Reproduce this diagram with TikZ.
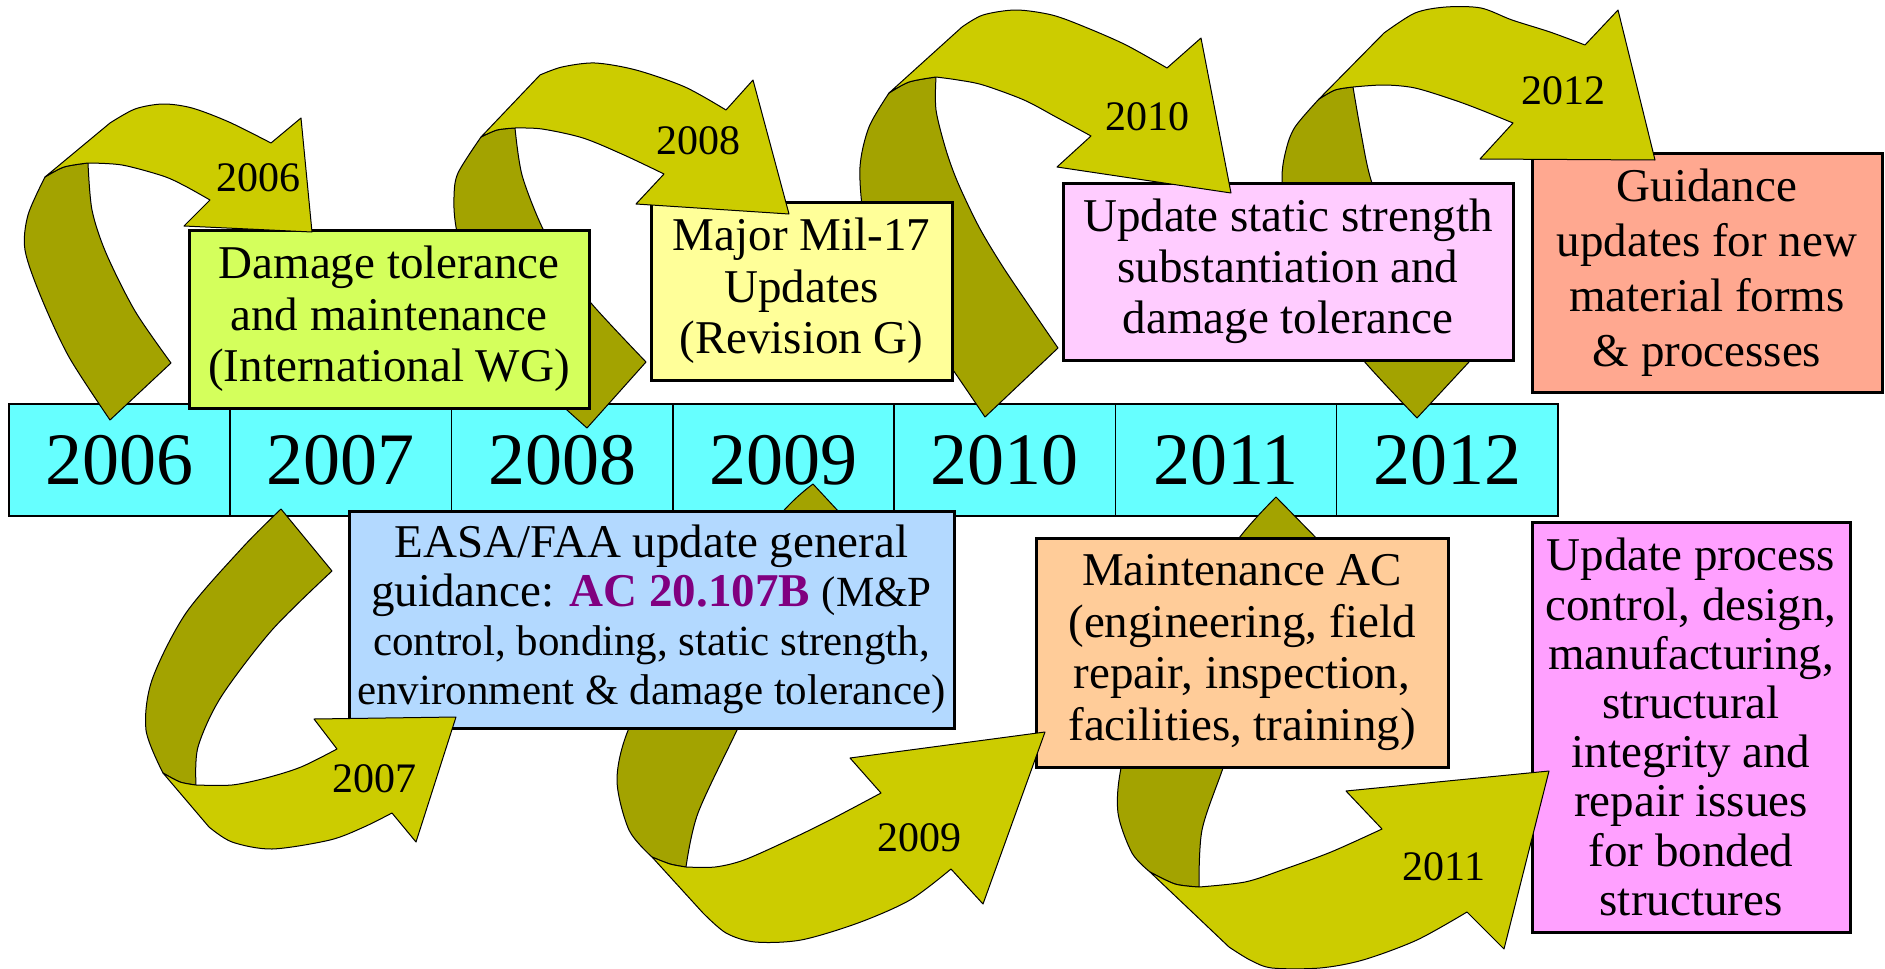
\documentclass[tikz,border=0pt]{standalone}
\usepackage{fontspec}
\setmainfont{Liberation Serif}
\definecolor{barcyan}{RGB}{102,255,255}
\definecolor{olivelight}{RGB}{204,204,0}
\definecolor{olivedark}{RGB}{163,163,0}
\definecolor{cgreen}{RGB}{212,255,92}
\definecolor{cyellow}{RGB}{255,255,153}
\definecolor{cpink}{RGB}{255,204,255}
\definecolor{csalmon}{RGB}{255,168,144}
\definecolor{cblue}{RGB}{179,217,255}
\definecolor{cpeach}{RGB}{255,204,153}
\definecolor{cmagenta}{RGB}{255,160,255}
\definecolor{acpurple}{RGB}{128,0,128}
\newcommand\myfs[2]{\fontsize{#1}{#2}\selectfont}
\begin{document}
\begin{tikzpicture}[x=0.5pt,y=-0.5pt,
  darkrib/.style={fill=olivedark, draw=black, line width=0.5pt, line join=round},
  lightrib/.style={fill=olivelight, draw=black, line width=0.5pt, line join=round},
  cell/.style={draw=black, line width=0.8pt, fill=barcyan, minimum width=110.64pt, minimum height=56pt, inner sep=0pt, font=\myfs{37}{40}},
  box/.style={draw=black, line width=1.5pt, inner sep=0pt, align=center, anchor=north west},
  lab/.style={inner sep=0pt, font=\myfs{21}{24}}]
\fill[white] (0,0) rectangle (1885,969);
\useasboundingbox (0,0) rectangle (1885,969);

% timeline bar
\foreach \i/\yr in {0/2006,1/2007,2/2008,3/2009,4/2010,5/2011,6/2012}
  \node[cell] (y\yr) at ({9+221.28*(\i+0.5)},460) {\yr};

% ---------- lower row ----------
\node[box, fill=cmagenta, minimum width=159pt, minimum height=205pt, font=\myfs{23.5}{24.6}] (b7) at (1530.5,520.5)
  {Update process\\control, design,\\manufacturing,\\structural\\integrity and\\repair issues\\for bonded\\structures};
% arrow 2011
\filldraw[darkrib] plot[smooth] coordinates {(1276,497) (1243,533) (1185,610) (1142,690) (1121,768) (1118,813) (1132,853) (1150,872)}
  -- plot[smooth] coordinates {(1150,872) (1175,884) (1199,887)}
  -- plot[smooth] coordinates {(1199,887) (1202,830) (1223,768) (1250,690) (1285,610) (1328,550)} -- cycle;
\filldraw[lightrib] (1150,872) -- plot[smooth] coordinates {(1229,947) (1250,960) (1272,968) (1320,968) (1363,960) (1417,940) (1467,912)}
  -- (1504,949) -- (1549,771) -- (1346,791) -- (1382,829)
  -- plot[smooth] coordinates {(1382,829) (1331,852) (1282,870) (1245,882) (1199,887)}
  -- plot[smooth] coordinates {(1199,887) (1175,884) (1150,872)} -- cycle;

\node[box, fill=cpeach, minimum width=206pt, minimum height=114.5pt, font=\myfs{23.5}{25.85}] (b6) at (1034.5,536.5)
  {Maintenance AC\\(engineering, field\\repair, inspection,\\facilities, training)};
% arrow 2009
\filldraw[darkrib] plot[smooth] coordinates {(813,484) (789,505) (730,570) (672,648) (629,728) (617,780) (629,830) (652,857)}
  -- plot[smooth] coordinates {(652,857) (670,864) (686,867)}
  -- plot[smooth] coordinates {(686,867) (698,813) (738,728) (770,660) (810,600) (865,540)} -- cycle;
\filldraw[lightrib] (652,857) -- plot[smooth] coordinates {(703,913) (726,933) (755,942) (801,940) (858,923) (910,900) (951,869)}
  -- (983,904) -- (1045,732) -- (850,758) -- (881,793)
  -- plot[smooth] coordinates {(881,793) (830,820) (789,840) (744,860) (715,867) (686,867)}
  -- plot[smooth] coordinates {(686,867) (670,864) (652,857)} -- cycle;

\node[box, fill=cblue, minimum width=302.5pt, minimum height=108.5pt, font=\myfs{23.5}{24.5}] (b5) at (347.5,509.5)
  {EASA/FAA update general\\guidance: {\bfseries\color{acpurple}AC 20.107B} {\myfs{21.5}{24.5}(M\&P}\\
   {\myfs{21.5}{24.5}control, bonding, static strength,}\\{\myfs{21.5}{24.5}environment \& damage tolerance)}};
% arrow 2007
\filldraw[darkrib] plot[smooth] coordinates {(281,509) (243,547) (186,613) (152,680) (146,730) (163,773)}
  -- plot[smooth] coordinates {(163,773) (180,782) (196,785)}
  -- plot[smooth] coordinates {(196,785) (198,747) (221,697) (272,630) (332,571)} -- cycle;
\filldraw[lightrib] (163,773) -- plot[smooth] coordinates {(209,827) (232,842) (272,849) (330,840) (364,827) (392,813)}
  -- (416,842) -- (456,717) -- (314,719) -- (337,749)
  -- plot[smooth] coordinates {(337,749) (301,767) (266,778) (232,785) (196,785)}
  -- plot[smooth] coordinates {(196,785) (180,782) (163,773)} -- cycle;

% ---------- upper row ----------
\node[box, fill=csalmon, minimum width=175pt, minimum height=119.5pt, font=\myfs{23.5}{27.5}] (b4) at (1530.5,151.5)
  {Guidance\\updates for new\\material forms\\\& processes};
% arrow 2012
\filldraw[darkrib] plot[smooth] coordinates {(1319,99) (1295,127) (1286,150) (1282,180) (1288,240) (1315,300) (1363,360) (1417,418)}
  -- (1469,362)
  -- plot[smooth] coordinates {(1469,362) (1430,305) (1395,245) (1371,180) (1361,133) (1353,87)}
  -- plot[smooth] coordinates {(1353,87) (1335,90) (1319,99)} -- cycle;
\filldraw[lightrib] (1319,99) -- plot[smooth] coordinates {(1384,33) (1415,13) (1446,7) (1481,8) (1512,20) (1550,32) (1585,45)}
  -- (1618,10) -- (1655,160) -- (1480,159) -- (1513,123)
  -- plot[smooth] coordinates {(1513,123) (1481,110) (1454,100) (1415,88) (1384,85) (1353,87)}
  -- plot[smooth] coordinates {(1353,87) (1335,90) (1319,99)} -- cycle;

\node[box, fill=cpink, minimum width=225pt, minimum height=88.5pt, font=\myfs{23.5}{25.5}] (b3) at (1061.5,181.5)
  {Update static strength\\substantiation and\\damage tolerance};
% arrow 2010
\filldraw[darkrib] plot[smooth] coordinates {(889,93) (869,127) (860,167) (864,217) (881,260) (901,300) (946,360) (985,417)}
  -- (1058,348)
  -- plot[smooth] coordinates {(1058,348) (1032,310) (1003,267) (979,227) (958,183) (946,150) (936,110) (936,77)}
  -- plot[smooth] coordinates {(936,77) (909,82) (889,93)} -- cycle;
\filldraw[lightrib] (889,93) -- plot[smooth] coordinates {(962,27) (983,15) (1016,10) (1052,15) (1085,27) (1126,45) (1167,68)}
  -- (1201,38) -- (1231,193) -- (1057,167) -- (1091,136)
  -- plot[smooth] coordinates {(1091,136) (1056,117) (1024,100) (983,85) (958,80) (936,77)}
  -- plot[smooth] coordinates {(936,77) (909,82) (889,93)} -- cycle;

\node[box, fill=cyellow, minimum width=150.5pt, minimum height=89pt, font=\myfs{23.5}{25.75}] (b2) at (649.5,200.5)
  {Major Mil-17\\Updates\\(Revision G)};
% arrow 2008
\filldraw[darkrib] plot[smooth] coordinates {(481,137) (458,173) (454,197) (456,227) (470,290) (500,342) (540,385) (587,428)}
  -- (646,362)
  -- plot[smooth] coordinates {(646,362) (591,303) (565,265) (542,227) (522,175) (515,128)}
  -- plot[smooth] coordinates {(515,128) (497,130) (481,137)} -- cycle;
\filldraw[lightrib] (481,137) -- plot[smooth] coordinates {(540,75) (562,67) (595,63) (636,70) (685,87) (726,110)}
  -- (753,80) -- (789,214) -- (636,204) -- (664,174)
  -- plot[smooth] coordinates {(664,174) (624,155) (583,138) (542,129) (515,128)}
  -- plot[smooth] coordinates {(515,128) (497,130) (481,137)} -- cycle;

\node[box, fill=cgreen, minimum width=200pt, minimum height=89pt, font=\myfs{23.5}{25.75}] (b1) at (187.5,228.5)
  {Damage tolerance\\and maintenance\\(International WG)};
% arrow 2006
\filldraw[darkrib] plot[smooth] coordinates {(45,177) (28,215) (25,250) (41,297) (69,357) (110,420)}
  -- (171,363)
  -- plot[smooth] coordinates {(171,363) (135,311) (106,253) (92,210) (88,163)}
  -- plot[smooth] coordinates {(88,163) (64,167) (45,177)} -- cycle;
\filldraw[lightrib] (45,177) -- plot[smooth] coordinates {(110,123) (135,109) (163,104) (192,108) (229,122) (271,143)}
  -- (301,118) -- (312,232) -- (184,226) -- (210,200)
  -- plot[smooth] coordinates {(210,200) (185,186) (163,176) (122,165) (88,163)}
  -- plot[smooth] coordinates {(88,163) (64,167) (45,177)} -- cycle;

% arrow labels
\node[lab] (l2006) at (258,178) {2006};
\node[lab] (l2008) at (698,141) {2008};
\node[lab] (l2010) at (1147,117) {2010};
\node[lab] (l2012) at (1563,91) {2012};
\node[lab] (l2007) at (374,779) {2007};
\node[lab] (l2009) at (919,838) {2009};
\node[lab] (l2011) at (1444,867) {2011};
\end{tikzpicture}
\end{document}
